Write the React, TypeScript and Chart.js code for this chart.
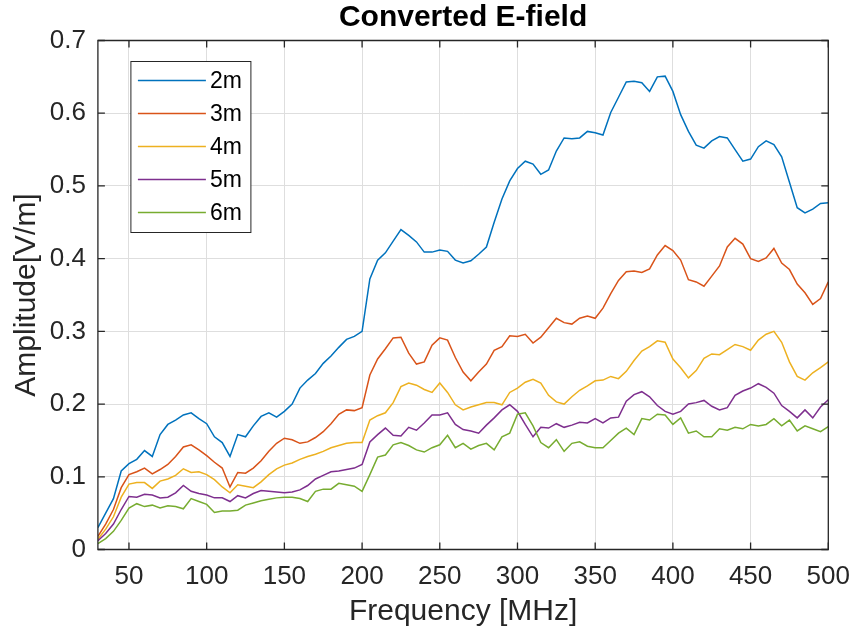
import { useEffect, useRef } from "react";
import { Chart, registerables } from "chart.js";

Chart.register(...registerables);

// Frequency axis samples (MHz)
const FREQ_MHZ = [
  30, 35, 40, 45, 50, 55, 60, 65, 70, 75,
  80, 85, 90, 95, 100, 105, 110, 115, 120, 125,
  130, 135, 140, 145, 150, 155, 160, 165, 170, 175,
  180, 185, 190, 195, 200, 205, 210, 215, 220, 225,
  230, 235, 240, 245, 250, 255, 260, 265, 270, 275,
  280, 285, 290, 295, 300, 305, 310, 315, 320, 325,
  330, 335, 340, 345, 350, 355, 360, 365, 370, 375,
  380, 385, 390, 395, 400, 405, 410, 415, 420, 425,
  430, 435, 440, 445, 450, 455, 460, 465, 470, 475,
  480, 485, 490, 495, 500,
];

// Amplitude [V/m] at each distance
const E_2M = [
  0.030, 0.050, 0.070, 0.108, 0.118, 0.124, 0.136, 0.128, 0.158, 0.172,
  0.178, 0.185, 0.188, 0.180, 0.173, 0.155, 0.147, 0.128, 0.158, 0.155,
  0.170, 0.183, 0.188, 0.182, 0.190, 0.200, 0.222, 0.233, 0.242, 0.256,
  0.266, 0.278, 0.289, 0.293, 0.300, 0.372, 0.398, 0.408, 0.424, 0.440,
  0.432, 0.423, 0.409, 0.409, 0.412, 0.410, 0.398, 0.394, 0.397, 0.406,
  0.416, 0.450, 0.482, 0.507, 0.524, 0.534, 0.530, 0.516, 0.522, 0.548,
  0.566, 0.565, 0.566, 0.575, 0.573, 0.570, 0.601, 0.622, 0.643, 0.644,
  0.642, 0.630, 0.650, 0.651, 0.630, 0.598, 0.575, 0.556, 0.552, 0.562,
  0.568, 0.566, 0.550, 0.534, 0.537, 0.554, 0.562, 0.557, 0.540, 0.505,
  0.470, 0.463, 0.468, 0.476, 0.477,
];
const E_3M = [
  0.018, 0.035, 0.055, 0.085, 0.103, 0.107, 0.112, 0.104, 0.110, 0.117,
  0.128, 0.141, 0.144, 0.137, 0.129, 0.120, 0.112, 0.086, 0.106, 0.105,
  0.112, 0.122, 0.135, 0.146, 0.153, 0.151, 0.146, 0.148, 0.154, 0.162,
  0.173, 0.186, 0.192, 0.191, 0.195, 0.240, 0.262, 0.276, 0.291, 0.292,
  0.270, 0.255, 0.258, 0.281, 0.291, 0.288, 0.264, 0.244, 0.232, 0.244,
  0.255, 0.274, 0.279, 0.294, 0.293, 0.296, 0.284, 0.292, 0.305, 0.318,
  0.312, 0.310, 0.318, 0.321, 0.318, 0.332, 0.352, 0.370, 0.382, 0.383,
  0.381, 0.386, 0.405, 0.418, 0.411, 0.398, 0.371, 0.368, 0.362, 0.376,
  0.390, 0.416, 0.428, 0.420, 0.400, 0.396, 0.401, 0.414, 0.394, 0.385,
  0.365, 0.353, 0.337, 0.345, 0.368,
];
const E_4M = [
  0.014, 0.028, 0.045, 0.072, 0.090, 0.092, 0.092, 0.084, 0.094, 0.097,
  0.102, 0.111, 0.106, 0.107, 0.103, 0.096, 0.086, 0.078, 0.089, 0.087,
  0.085, 0.093, 0.103, 0.111, 0.116, 0.119, 0.124, 0.128, 0.131, 0.135,
  0.140, 0.143, 0.146, 0.147, 0.147, 0.178, 0.184, 0.188, 0.202, 0.224,
  0.229, 0.226, 0.220, 0.216, 0.229, 0.216, 0.199, 0.192, 0.196, 0.199,
  0.202, 0.202, 0.199, 0.216, 0.222, 0.230, 0.234, 0.229, 0.212, 0.203,
  0.200, 0.210, 0.219, 0.225, 0.232, 0.233, 0.238, 0.235, 0.245, 0.260,
  0.273, 0.279, 0.287, 0.285, 0.262, 0.250, 0.236, 0.246, 0.263, 0.269,
  0.268, 0.275, 0.282, 0.279, 0.274, 0.288, 0.296, 0.300, 0.285, 0.258,
  0.238, 0.233, 0.243, 0.250, 0.258,
];
const E_5M = [
  0.012, 0.022, 0.035, 0.055, 0.073, 0.072, 0.076, 0.075, 0.071, 0.072,
  0.078, 0.088, 0.080, 0.077, 0.075, 0.071, 0.071, 0.066, 0.074, 0.071,
  0.077, 0.081, 0.080, 0.079, 0.078, 0.079, 0.082, 0.088, 0.097, 0.102,
  0.107, 0.108, 0.110, 0.112, 0.117, 0.148, 0.158, 0.167, 0.157, 0.156,
  0.168, 0.164, 0.174, 0.185, 0.185, 0.188, 0.172, 0.165, 0.163, 0.160,
  0.171, 0.181, 0.192, 0.199, 0.190, 0.172, 0.155, 0.168, 0.167, 0.173,
  0.168, 0.171, 0.175, 0.174, 0.180, 0.174, 0.181, 0.182, 0.204, 0.213,
  0.217, 0.210, 0.198, 0.190, 0.186, 0.190, 0.200, 0.202, 0.205, 0.197,
  0.192, 0.195, 0.212, 0.218, 0.222, 0.228, 0.223, 0.215, 0.198, 0.190,
  0.181, 0.192, 0.181, 0.196, 0.206,
];
const E_6M = [
  0.008, 0.015, 0.025, 0.040, 0.057, 0.063, 0.059, 0.061, 0.057, 0.060,
  0.059, 0.056, 0.070, 0.066, 0.062, 0.051, 0.053, 0.053, 0.054, 0.061,
  0.064, 0.067, 0.069, 0.071, 0.072, 0.072, 0.070, 0.066, 0.080, 0.083,
  0.083, 0.091, 0.089, 0.087, 0.080, 0.103, 0.127, 0.130, 0.144, 0.147,
  0.143, 0.137, 0.134, 0.140, 0.144, 0.157, 0.140, 0.146, 0.138, 0.143,
  0.146, 0.137, 0.155, 0.160, 0.186, 0.188, 0.170, 0.147, 0.140, 0.151,
  0.135, 0.146, 0.148, 0.142, 0.140, 0.140, 0.150, 0.160, 0.167, 0.158,
  0.180, 0.178, 0.186, 0.185, 0.172, 0.181, 0.160, 0.163, 0.155, 0.155,
  0.166, 0.164, 0.168, 0.166, 0.172, 0.170, 0.172, 0.180, 0.170, 0.178,
  0.163, 0.170, 0.166, 0.162, 0.169,
];

const SERIES_LABELS = ["2m", "3m", "4m", "5m", "6m"];
const SERIES_VALUES = [E_2M, E_3M, E_4M, E_5M, E_6M];
const SERIES_COLORS = ["#0072BD", "#D95319", "#EDB120", "#7E2F8E", "#77AC30"];

const X_TICKS = [50, 100, 150, 200, 250, 300, 350, 400, 450, 500];
const Y_TICKS = [0, 0.1, 0.2, 0.3, 0.4, 0.5, 0.6, 0.7];
const Y_TICK_LABELS = ["0", "0.1", "0.2", "0.3", "0.4", "0.5", "0.6", "0.7"];

const TITLE = "Converted E-field";
const X_TITLE = "Frequency [MHz]";
const Y_TITLE = "Amplitude[V/m]";

const FONT = "'Liberation Sans', Arial, Helvetica, sans-serif";
const INK = "#262626";

// Axes box with inward ticks on all four sides, title and in-plot legend
const framePlugin = {
  id: "frame",
  afterDraw(chart: any) {
    const { ctx, chartArea: a, scales } = chart;
    const xs = scales.x;
    const ys = scales.y;
    const tick = 7;
    ctx.save();
    ctx.strokeStyle = INK;
    ctx.lineWidth = 1.3;
    ctx.beginPath();
    ctx.rect(a.left, a.top, a.right - a.left, a.bottom - a.top);
    ctx.stroke();
    ctx.beginPath();
    for (const v of X_TICKS) {
      const px = xs.getPixelForValue(v);
      ctx.moveTo(px, a.bottom);
      ctx.lineTo(px, a.bottom - tick);
      ctx.moveTo(px, a.top);
      ctx.lineTo(px, a.top + tick);
    }
    for (const v of Y_TICKS) {
      const py = ys.getPixelForValue(v);
      ctx.moveTo(a.left, py);
      ctx.lineTo(a.left + tick, py);
      ctx.moveTo(a.right, py);
      ctx.lineTo(a.right - tick, py);
    }
    ctx.stroke();

    // Title centred over the axes
    ctx.fillStyle = "#000";
    ctx.font = `bold 30px ${FONT}`;
    ctx.textAlign = "center";
    ctx.textBaseline = "middle";
    ctx.fillText(TITLE, (a.left + a.right) / 2, 18);

    // Legend
    const lx = a.left + 33;
    const ly = a.top + 21;
    const lw = 120;
    const lh = 171;
    ctx.fillStyle = "#fff";
    ctx.fillRect(lx, ly, lw, lh);
    ctx.strokeStyle = INK;
    ctx.lineWidth = 1;
    ctx.strokeRect(lx, ly, lw, lh);
    ctx.font = `23px ${FONT}`;
    ctx.textAlign = "left";
    ctx.textBaseline = "middle";
    SERIES_LABELS.forEach((label, i) => {
      const ry = ly + 19 + i * 33;
      ctx.strokeStyle = SERIES_COLORS[i];
      ctx.lineWidth = 1.5;
      ctx.beginPath();
      ctx.moveTo(lx + 7, ry);
      ctx.lineTo(lx + 75, ry);
      ctx.stroke();
      ctx.fillStyle = "#000";
      ctx.fillText(label, lx + 79, ry + 1);
    });
    ctx.restore();
  },
};

export default function App() {
  const canvasRef = useRef<HTMLCanvasElement | null>(null);

  useEffect(() => {
    const canvas = canvasRef.current;
    if (!canvas) return;

    const datasets = SERIES_LABELS.map((label, i) => ({
      label,
      data: FREQ_MHZ.map((f, j) => ({ x: f, y: SERIES_VALUES[i][j] })),
      borderColor: SERIES_COLORS[i],
      backgroundColor: SERIES_COLORS[i],
      borderWidth: 1.5,
      pointRadius: 0,
      tension: 0,
      fill: false,
      order: SERIES_LABELS.length - i,
    }));

    const chart = new Chart(canvas, {
      type: "line",
      data: { datasets },
      options: {
        animation: false,
        responsive: false,
        layout: { padding: { left: 0, right: 26.7, top: 40.5, bottom: 0 } },
        plugins: {
          legend: { display: false },
          tooltip: { enabled: false },
          title: { display: false },
        },
        scales: {
          x: {
            type: "linear",
            min: 30,
            max: 500,
            afterBuildTicks: (scale: any) => {
              scale.ticks = X_TICKS.map((v) => ({ value: v }));
            },
            afterFit: (scale: any) => {
              scale.height = 87.5;
              scale.paddingLeft = 0;
              scale.paddingRight = 0;
            },
            grid: { color: "#dedede", lineWidth: 1, drawTicks: false },
            border: { display: false },
            ticks: {
              padding: 12,
              maxRotation: 0,
              autoSkip: false,
              color: INK,
              font: { family: FONT, size: 26 },
              callback: (v: any) => String(v),
            },
            title: {
              display: true,
              text: X_TITLE,
              color: INK,
              font: { family: FONT, size: 30 },
              padding: { top: 0, bottom: 7 },
            },
          },
          y: {
            type: "linear",
            min: 0,
            max: 0.7,
            afterBuildTicks: (scale: any) => {
              scale.ticks = Y_TICKS.map((v) => ({ value: v }));
            },
            afterFit: (scale: any) => {
              scale.width = 97.9;
              scale.paddingTop = 0;
              scale.paddingBottom = 0;
            },
            grid: { color: "#dedede", lineWidth: 1, drawTicks: false },
            border: { display: false },
            ticks: {
              padding: 12,
              autoSkip: false,
              color: INK,
              font: { family: FONT, size: 26 },
              callback: (v: any) => {
                const k = Y_TICKS.findIndex((t) => Math.abs(t - v) < 1e-9);
                return k >= 0 ? Y_TICK_LABELS[k] : "";
              },
            },
            title: {
              display: true,
              text: Y_TITLE,
              color: INK,
              font: { family: FONT, size: 30 },
              padding: { top: 9, bottom: 0 },
            },
          },
        },
      },
      plugins: [framePlugin],
    });

    return () => chart.destroy();
  }, []);

  return (
    <div style={{ position: "fixed", left: 0, top: 0, width: 855, height: 637, background: "#fff" }}>
      <canvas ref={canvasRef} width={855} height={637} />
    </div>
  );
}
